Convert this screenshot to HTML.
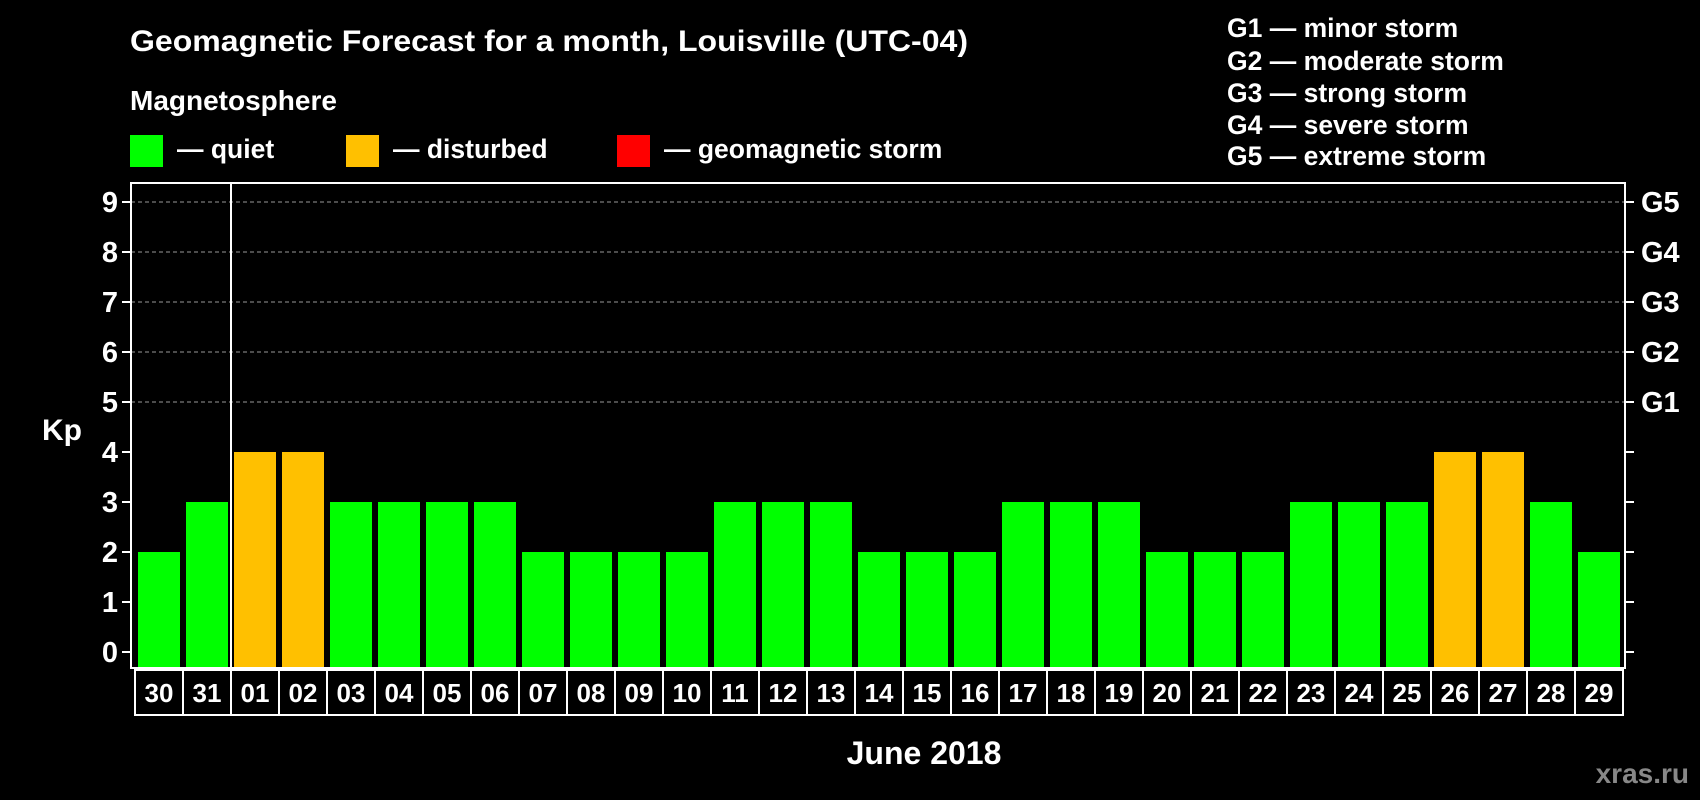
<!DOCTYPE html>
<html><head><meta charset="utf-8"><style>
html,body{margin:0;padding:0;background:#000;width:1700px;height:800px;overflow:hidden}
svg text{font-family:"Liberation Sans",sans-serif;font-weight:bold;fill:#fff}
</style></head><body>
<svg width="1700" height="800" viewBox="0 0 1700 800">
<text x="130" y="51" font-size="30" textLength="838" lengthAdjust="spacingAndGlyphs">Geomagnetic Forecast for a month, Louisville (UTC-04)</text>
<text x="130" y="110" font-size="28">Magnetosphere</text>
<rect x="130" y="135" width="33" height="32" fill="#00ff00"/>
<text x="177" y="158" font-size="26.5">— quiet</text>
<rect x="346" y="135" width="33" height="32" fill="#ffc000"/>
<text x="393" y="158" font-size="26.5">— disturbed</text>
<rect x="617" y="135" width="33" height="32" fill="#ff0000"/>
<text x="664" y="158" font-size="26.5">— geomagnetic storm</text>
<g font-size="26.5">
<text x="1227" y="37">G1 — minor storm</text>
<text x="1227" y="70">G2 — moderate storm</text>
<text x="1227" y="102">G3 — strong storm</text>
<text x="1227" y="134">G4 — severe storm</text>
<text x="1227" y="165">G5 — extreme storm</text>
</g>
<text x="42" y="440" font-size="30">Kp</text>
<g id="plot"></g>
<text x="924" y="764" font-size="32" text-anchor="middle">June 2018</text>
<text x="1689" y="783" font-size="28" text-anchor="end" style="fill:#888">xras.ru</text>
</svg>
<script>
const days=["30","31","01","02","03","04","05","06","07","08","09","10","11","12","13","14","15","16","17","18","19","20","21","22","23","24","25","26","27","28","29"];
const kp=[2,3,4,4,3,3,3,3,2,2,2,2,3,3,3,2,2,2,3,3,3,2,2,2,3,3,3,4,4,3,2];
const yTicks=["0","1","2","3","4","5","6","7","8","9"];
const gLabels=["","","","","","G1","G2","G3","G4","G5"];
const NS="http://www.w3.org/2000/svg";
const g=document.getElementById('plot');
const L=131,R=1625,T=183,B=668;
const y=v=>652-v*50;
const x=i=>138+i*48;
function mk(t,a){const e=document.createElementNS(NS,t);for(const k in a)e.setAttribute(k,a[k]);g.appendChild(e);return e;}
yTicks.forEach((lab,i)=>{
 if(i>=5){const l=mk('line',{x1:L,x2:R,y1:y(i),y2:y(i),stroke:'#999','stroke-dasharray':'4 3','stroke-width':1});
 
 }
 const t1=mk('line',{x1:L-9,x2:L,y1:y(i),y2:y(i),stroke:'#fff','stroke-width':2});
 
 
 const t2=mk('line',{x1:R,x2:R+9,y1:y(i),y2:y(i),stroke:'#fff','stroke-width':2});
 
 
 const tx=mk('text',{x:L-13,y:y(i)+10,'font-size':29,'text-anchor':'end'});tx.textContent=lab;
 
 
 if(gLabels[i]){const gt=mk('text',{x:R+16,y:y(i)+10,'font-size':29});gt.textContent=gLabels[i];
 
 }
});
kp.forEach((v,i)=>{
 const b=mk('rect',{x:x(i),y:y(v),width:42,height:y(0)-y(v)+16,fill:v>=5?'#ff0000':(v>=4?'#ffc000':'#00ff00')});
 
 
 const c=mk('rect',{x:x(i)-3,y:670,width:48,height:45,fill:'none',stroke:'#fff','stroke-width':2});
 
 
 const t=mk('text',{x:x(i)+21,y:702,'font-size':26,'text-anchor':'middle'});t.textContent=days[i];
 
 
});
const f=mk('rect',{x:L,y:T,width:R-L,height:B-T,fill:'none',stroke:'#fff','stroke-width':2});


const d=mk('line',{x1:231,x2:231,y1:T,y2:715,stroke:'#fff','stroke-width':2});


</script>
</body></html>
